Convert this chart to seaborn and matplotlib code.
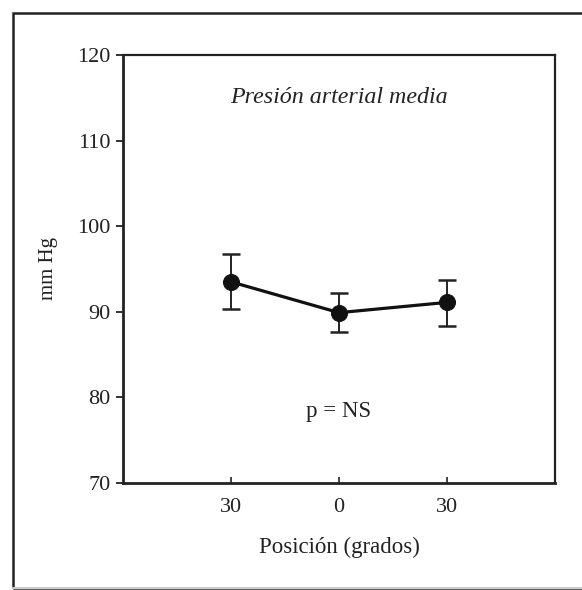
import numpy as np
import pandas as pd
import matplotlib
matplotlib.use("Agg")
import matplotlib.pyplot as plt
import seaborn as sns
from matplotlib.patches import Rectangle

# values
position_labels = ["30", "0", "30"]
step = [0, 1, 2]
mean_pam = [93.5, 89.9, 91.1]
upper = [96.7, 92.2, 93.7]
lower = [90.3, 87.6, 88.3]

df = pd.DataFrame({"step": step, "pam": mean_pam})

sns.set_style("white")
plt.rcParams["font.family"] = ["Liberation Serif", "DejaVu Serif"]

fig = plt.figure(figsize=(5.82, 5.90), dpi=100)
ax = fig.add_axes([123 / 582, 1 - 483 / 590, (555 - 123) / 582, (483 - 55) / 590])

yerr = [np.array(mean_pam) - np.array(lower), np.array(upper) - np.array(mean_pam)]
ax.errorbar(df.step, df.pam, yerr=yerr, fmt="none", ecolor="#222222",
            elinewidth=1.4, capsize=6.2, capthick=1.8, zorder=2)
sns.lineplot(data=df, x="step", y="pam", ax=ax, color="#111111", linewidth=2.3,
             marker="o", markersize=11.5, markeredgecolor="#111111", zorder=3)

ax.set_xlim(-1, 3)
ax.set_ylim(70, 120)
ax.set_yticks([70, 80, 90, 100, 110, 120])
ax.set_xticks(step)
ax.set_xticklabels(position_labels)
ax.tick_params(axis="y", direction="out", length=5, width=1.3, labelsize=16,
               left=True, pad=4, colors="#222222")
ax.tick_params(axis="x", direction="in", length=4, width=1.2, labelsize=16,
               bottom=True, pad=11, colors="#222222")
for s in ax.spines.values():
    s.set_color("#222222")
    s.set_linewidth(1.6)
ax.spines["left"].set_linewidth(2)
ax.spines["bottom"].set_linewidth(2)

ax.set_xlabel("Posición (grados)", fontsize=16.5, labelpad=14, color="#222222")
ax.set_ylabel("mm Hg", fontsize=15, labelpad=14, color="#222222")

ax.text(0.5, 0.9, "Presión arterial media", transform=ax.transAxes,
        ha="center", va="center", fontsize=17.3, style="italic", color="#222222")
ax.text(0.5, 0.168, "p = NS", transform=ax.transAxes,
        ha="center", va="center", fontsize=16.5, color="#222222")

# outer frame around the whole panel
fig.patches.append(Rectangle((13 / 582, 2 / 590), 1.2, 1 - 15 / 590, transform=fig.transFigure,
                             fill=False, edgecolor="#222222", linewidth=1.8, zorder=0))
fig.add_artist(plt.Line2D([13 / 582, 1], [2 / 590, 2 / 590], transform=fig.transFigure,
                          color="#cccccc", linewidth=1.5))

fig.savefig("out.png", dpi=100)
